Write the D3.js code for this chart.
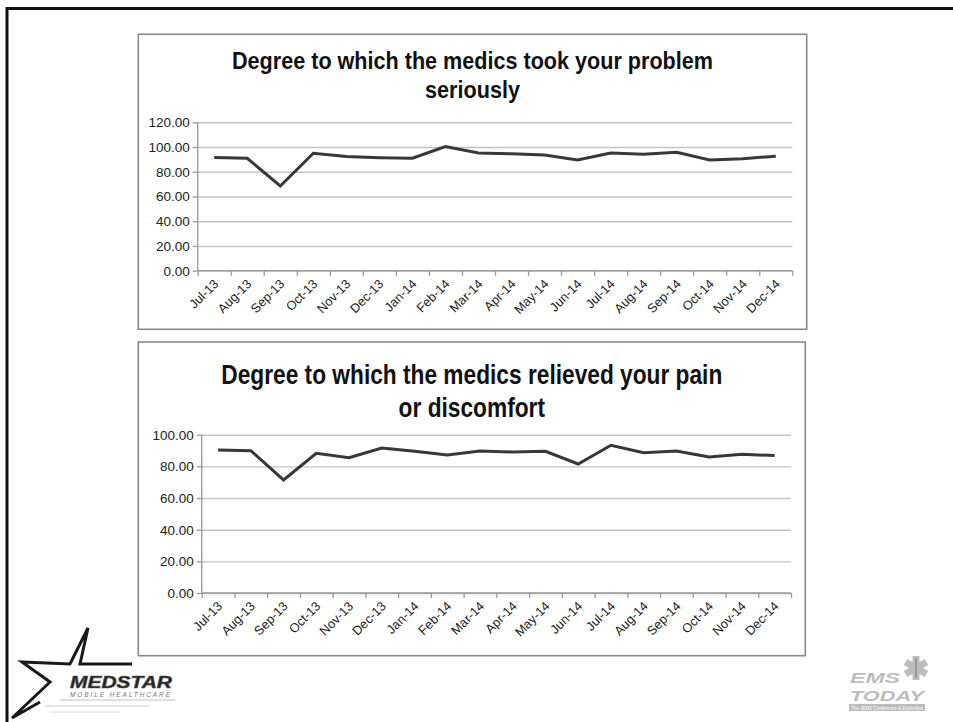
<!DOCTYPE html>
<html>
<head>
<meta charset="utf-8">
<script src="https://cdn.jsdelivr.net/npm/d3@7/dist/d3.min.js"></script>
<style>
  html, body { margin: 0; padding: 0; background: #fff; }
  svg { display: block; }
</style>
</head>
<body>
<svg id="slide" width="953" height="722"></svg>
<script>
// Monthly survey categories shared by both panels
const months = ["Jul-13","Aug-13","Sep-13","Oct-13","Nov-13","Dec-13","Jan-14","Feb-14","Mar-14",
                "Apr-14","May-14","Jun-14","Jul-14","Aug-14","Sep-14","Oct-14","Nov-14","Dec-14"];

// Panel 1: took your problem seriously
const seriousTitle = ["Degree to which the medics took your problem", "seriously"];
const seriousValues = [91.6, 90.9, 68.5, 95.0, 92.4, 91.4, 90.9, 100.4, 95.1, 94.6,
                       93.5, 89.5, 95.2, 94.1, 95.8, 89.5, 90.6, 92.6];
const seriousTicks = [0, 20, 40, 60, 80, 100, 120];

// Panel 2: relieved your pain or discomfort
const painTitle = ["Degree to which the medics relieved your pain", "or discomfort"];
const painValues = [90.3, 89.9, 71.4, 88.2, 85.5, 91.6, 89.5, 87.2, 89.7, 89.1,
                    89.5, 81.5, 93.3, 88.6, 89.7, 85.9, 87.6, 86.8];
const painTicks = [0, 20, 40, 60, 80, 100];

const svg = d3.select("#slide");

// Slide frame (top and left rules)
svg.append("line").attr("x1", 6).attr("x2", 953).attr("y1", 8.5).attr("y2", 8.5)
   .attr("stroke", "#111").attr("stroke-width", 3);
svg.append("line").attr("x1", 7).attr("x2", 7).attr("y1", 7).attr("y2", 722)
   .attr("stroke", "#111").attr("stroke-width", 3);

function drawPanel(cfg) {
  const g = svg.append("g");

  // outer chart box
  g.append("rect")
    .attr("x", cfg.box[0]).attr("y", cfg.box[1])
    .attr("width", cfg.box[2] - cfg.box[0]).attr("height", cfg.box[3] - cfg.box[1])
    .attr("fill", "#fff").attr("stroke", "#8a8a8a").attr("stroke-width", 1.6);

  // title, compressed horizontally like a condensed face
  const cx = (cfg.box[0] + cfg.box[2]) / 2;
  const titleNodes = cfg.title.map((t, i) =>
    g.append("text")
      .attr("x", cx).attr("y", cfg.titleY[i])
      .attr("text-anchor", "middle")
      .attr("font-family", "Liberation Sans, Arial, sans-serif")
      .attr("font-weight", "bold")
      .attr("font-size", cfg.titleSize)
      .attr("fill", "#111")
      .text(t));
  const k = cfg.titleWidth / titleNodes[0].node().getComputedTextLength();
  titleNodes.forEach(n => {
    const w = n.node().getComputedTextLength();
    n.attr("textLength", w * k).attr("lengthAdjust", "spacingAndGlyphs");
  });

  const [x0, x1] = cfg.xRange;
  const [yBottom, yTop] = cfg.yRange;

  const x = d3.scaleBand().domain(cfg.categories).range([x0, x1]).padding(0);
  const xEdges = d3.scaleLinear().domain([0, cfg.categories.length]).range([x0, x1]);
  const y = d3.scaleLinear().domain([0, d3.max(cfg.ticks)]).range([yBottom, yTop]);

  // horizontal gridlines
  const grid = g.append("g").attr("transform", `translate(${x0},0)`)
    .call(d3.axisLeft(y).tickValues(cfg.ticks).tickSize(-(x1 - x0)).tickFormat(""));
  grid.select(".domain").remove();
  grid.selectAll(".tick line").attr("stroke", "#c4c4c4").attr("stroke-width", 1.4);

  // y axis with labels
  const yAxis = g.append("g").attr("transform", `translate(${x0},0)`)
    .call(d3.axisLeft(y).tickValues(cfg.ticks).tickSize(5).tickPadding(3)
          .tickFormat(d3.format(".2f")));
  yAxis.select(".domain").attr("stroke", "#9a9a9a").attr("stroke-width", 1.3)
    .attr("d", `M0,${yBottom}V${yTop}`);
  yAxis.selectAll(".tick line").attr("stroke", "#9a9a9a").attr("stroke-width", 1.3);
  yAxis.selectAll(".tick text")
    .attr("font-family", "Liberation Sans, Arial, sans-serif")
    .attr("font-size", 13.5).attr("fill", "#222");

  // x axis: tick marks between categories
  const xAxis = g.append("g").attr("transform", `translate(0,${yBottom})`)
    .call(d3.axisBottom(xEdges).tickValues(d3.range(cfg.categories.length + 1))
          .tickSize(5).tickFormat(""));
  xAxis.select(".domain").attr("stroke", "#9a9a9a").attr("stroke-width", 1.3)
    .attr("d", `M${x0},0H${x1}`);
  xAxis.selectAll(".tick line").attr("stroke", "#9a9a9a").attr("stroke-width", 1.3);

  // rotated category labels
  g.append("g").selectAll("text")
    .data(cfg.categories)
    .join("text")
      .attr("transform", d => `translate(${x(d) + x.bandwidth() / 2 + 5},${yBottom + 14}) rotate(-45)`)
      .attr("text-anchor", "end")
      .attr("font-family", "Liberation Sans, Arial, sans-serif")
      .attr("font-size", 12.8).attr("fill", "#222")
      .text(d => d);

  // series line
  const line = d3.line()
    .x((d, i) => x(cfg.categories[i]) + x.bandwidth() / 2)
    .y(d => y(d));
  g.append("path")
    .datum(cfg.values)
    .attr("d", line)
    .attr("fill", "none")
    .attr("stroke", "#383838")
    .attr("stroke-width", 3)
    .attr("stroke-linejoin", "miter");
}

drawPanel({
  box: [138.3, 34.3, 806.7, 329.3],
  title: seriousTitle, titleY: [69, 98], titleSize: 24, titleWidth: 481,
  categories: months, values: seriousValues, ticks: seriousTicks,
  xRange: [197.7, 792.3], yRange: [270.7, 122.3]
});

drawPanel({
  box: [138.3, 342, 805.3, 655.7],
  title: painTitle, titleY: [384, 417], titleSize: 27, titleWidth: 501,
  categories: months, values: painValues, ticks: painTicks,
  xRange: [201.7, 791], yRange: [593, 434.7]
});

// MedStar logo (bottom left)
const logo = svg.append("g");
logo.append("path")
  .attr("d", "M40,702 L12,718 L50,682 L22,662 L70,664 L88,628 L80,664 L132,664")
  .attr("fill", "none").attr("stroke", "#1a1a1a").attr("stroke-width", 3)
  .attr("stroke-linejoin", "miter");
logo.append("text")
  .attr("x", 70).attr("y", 688)
  .attr("font-family", "Liberation Sans, Arial, sans-serif")
  .attr("font-weight", "bold").attr("font-style", "italic")
  .attr("font-size", 17).attr("fill", "#222").attr("stroke", "#555").attr("stroke-width", 0.6)
  .attr("textLength", 102).attr("lengthAdjust", "spacingAndGlyphs")
  .text("MEDSTAR");
logo.append("text")
  .attr("x", 70).attr("y", 697)
  .attr("font-family", "Liberation Sans, Arial, sans-serif")
  .attr("font-style", "italic")
  .attr("font-size", 6.5).attr("fill", "#777")
  .attr("textLength", 100).attr("lengthAdjust", "spacing")
  .text("MOBILE HEALTHCARE");
[[60, 700, 175, 0.9], [45, 706, 150, 0.7], [50, 712, 120, 0.5]].forEach(([a, b, c, o]) =>
  logo.append("line").attr("x1", a).attr("x2", c).attr("y1", b).attr("y2", b)
    .attr("stroke", "#bbb").attr("stroke-width", 1).attr("opacity", o));

// EMS Today logo (bottom right)
const ems = svg.append("g").attr("fill", "#bdbdbd");
ems.append("text").attr("x", 850).attr("y", 683)
  .attr("font-family", "Liberation Sans, Arial, sans-serif")
  .attr("font-weight", "bold").attr("font-style", "italic").attr("font-size", 15)
  .attr("textLength", 50).attr("lengthAdjust", "spacingAndGlyphs").text("EMS");
ems.append("text").attr("x", 850).attr("y", 701)
  .attr("font-family", "Liberation Sans, Arial, sans-serif")
  .attr("font-weight", "bold").attr("font-style", "italic").attr("font-size", 15)
  .attr("textLength", 74).attr("lengthAdjust", "spacingAndGlyphs").text("TODAY");
ems.append("rect").attr("x", 849).attr("y", 704).attr("width", 76).attr("height", 7);
ems.append("text").attr("x", 851).attr("y", 709.5)
  .attr("font-family", "Liberation Sans, Arial, sans-serif")
  .attr("font-style", "italic").attr("font-size", 5).attr("fill", "#fff")
  .attr("textLength", 72).attr("lengthAdjust", "spacingAndGlyphs")
  .text("The JEMS Conference & Exposition");
// star of life
const starG = ems.append("g").attr("transform", "translate(916,668)");
[0, 60, 120].forEach(a =>
  starG.append("rect").attr("x", -3.5).attr("y", -12).attr("width", 7).attr("height", 24)
    .attr("transform", `rotate(${a})`));
starG.append("line").attr("x1", 0).attr("x2", 0).attr("y1", -10).attr("y2", 10)
  .attr("stroke", "#777").attr("stroke-width", 1);
</script>
</body>
</html>
